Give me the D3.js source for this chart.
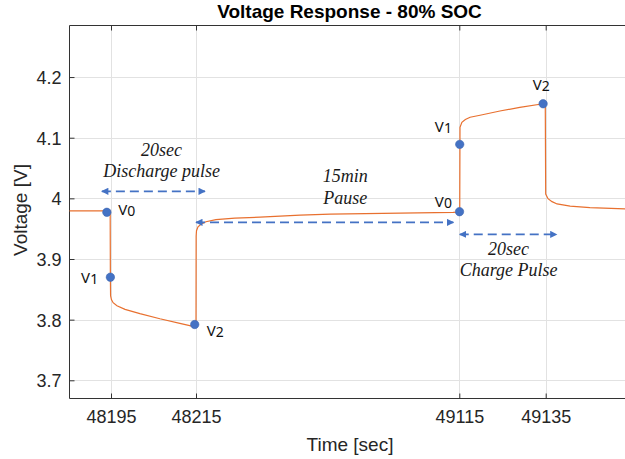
<!DOCTYPE html>
<html>
<head>
<meta charset="utf-8">
<script src="https://cdn.jsdelivr.net/npm/d3@7"></script>
<style>
  html, body { margin: 0; padding: 0; background: #fff; }
  svg { display: block; }
</style>
</head>
<body>
<svg id="chart" width="625" height="459"></svg>
<script>
// Measured cell voltage around a discharge pulse, a 15 min rest and a charge pulse
const timeSec = [
  48185, 48194.7, 48194.8, 48194.85, 48194.9, 48195.1, 48195.5, 48196.4, 48198.3,
  48201.8, 48206.5, 48211.2, 48214.8, 48215.0, 48215.5, 48216.7, 48221.8, 48232,
  48249, 48283, 48348, 48434, 48571, 48674, 48913, 49094, 49115,
  49115.1, 49115.16, 49115.6, 49116.4, 49117.5, 49119.8, 49124.4, 49129, 49134.4, 49134.9,
  49135.0, 49135.55, 49136.5, 49137.7, 49140.8, 49145.5, 49155
];
const voltage = [
  3.9795, 3.9795, 3.979, 3.870, 3.8394, 3.833, 3.828, 3.823, 3.817,
  3.810, 3.8015, 3.794, 3.788, 3.788, 3.938, 3.9467, 3.953, 3.9574,
  3.9615, 3.9649, 3.9673, 3.969, 3.9723, 3.974, 3.9756, 3.977, 3.9775,
  3.9775, 4.117, 4.1254, 4.130, 4.1337, 4.137, 4.144, 4.150, 4.156, 4.1565,
  4.007, 3.9995, 3.9946, 3.9908, 3.9871, 3.9847, 3.9825
];

// Sampled points V0, V1, V2 of each pulse
const pointTime = [48194, 48194.85, 48214.7, 49115.05, 49115.1, 49134.4];
const pointVolt = [3.977, 3.870, 3.792, 3.978, 4.089, 4.156];
const pointName = ["0", "1", "2", "0", "1", "2"];
const pointLabelTime = [48196.7, 48187.8, 48251.6, 49031.5, 49031.5, 49132.0];
const pointLabelVolt = [3.9726, 3.8604, 3.7736, 3.9851, 4.1089, 4.178];

// Axis ticks (the time axis is broken between the two pulses)
const xTicks = [48195, 48215, 49115, 49135];
const yTicks = [3.7, 3.8, 3.9, 4.0, 4.1, 4.2];
const xBreaks = [48185, 48195, 48215, 49115, 49135, 49155];

// Interval arrows and their captions
const arrowFrom = [48192.8, 48215, 49115.1];
const arrowTo = [48245.8, 49094.5, 49137.6];
const arrowVolt = [4.0116, 3.9604, 3.9406];
const captionTime = [48206.9, 48725, 49126.4];
const captionLine1 = ["20sec", "15min", "20sec"];
const captionLine2 = ["Discharge pulse", "Pause", "Charge Pulse"];
const captionVolt1 = [4.0705, 4.0264, 3.9066];
const captionVolt2 = [4.0347, 3.9908, 3.8724];

const plotLeft = 69.5, plotRight = 630, plotTop = 25.5, plotBottom = 398.5;
const svg = d3.select("#chart");

const x = d3.scaleLinear()
  .domain(xBreaks)
  .range([plotLeft, 111, 196, 459.3, 545.7, plotRight]);
const y = d3.scaleLinear().domain([3.67, 4.285]).range([plotBottom, plotTop]);

const sans = "'Liberation Sans', Arial, Helvetica, sans-serif";
const axisColor = "#333333";

// grid
svg.append("g").selectAll("line").data(xTicks).join("line")
  .attr("x1", d => Math.round(x(d)) + 0.5).attr("x2", d => Math.round(x(d)) + 0.5)
  .attr("y1", plotTop).attr("y2", plotBottom)
  .attr("stroke", "#e2e2e2").attr("stroke-width", 1);
svg.append("g").selectAll("line").data(yTicks).join("line")
  .attr("y1", d => Math.round(y(d)) + 0.5).attr("y2", d => Math.round(y(d)) + 0.5)
  .attr("x1", plotLeft).attr("x2", plotRight)
  .attr("stroke", "#e2e2e2").attr("stroke-width", 1);

// axes (ticks pointing inward)
const xAxis = d3.axisBottom(x).tickValues(xTicks).tickSize(-5).tickPadding(12)
  .tickFormat(d3.format("d"));
const gx = svg.append("g").attr("transform", `translate(0,${plotBottom})`).call(xAxis);
const yAxis = d3.axisLeft(y).tickValues(yTicks).tickSize(-5).tickPadding(8)
  .tickFormat(d => d3.format("~g")(d));
const gy = svg.append("g").attr("transform", `translate(${plotLeft},0)`).call(yAxis);
const xTop = d3.axisTop(x).tickValues(xTicks).tickSize(-5).tickFormat("");
const gt = svg.append("g").attr("transform", `translate(0,${plotTop})`).call(xTop);

[gx, gy, gt].forEach(g => {
  g.select(".domain").attr("stroke", axisColor).attr("stroke-width", 1);
  g.selectAll(".tick line").attr("stroke", axisColor);
  g.selectAll(".tick text").attr("fill", "#262626")
    .style("font-family", sans).style("font-size", "18px");
});
gx.selectAll(".tick text").attr("dy", "0.71em");
gy.selectAll(".tick text").attr("dy", "0.36em");
gx.select(".domain").attr("d", `M${plotLeft},0H${plotRight}`);
gt.select(".domain").attr("d", `M${plotLeft},0H${plotRight}`);
gy.select(".domain").attr("d", `M0,${plotTop}V${plotBottom}`);

// voltage trace
const trace = timeSec.map((t, i) => [t, voltage[i]]);
svg.append("path")
  .datum(trace)
  .attr("fill", "none")
  .attr("stroke", "#E8702F")
  .attr("stroke-width", 1.2)
  .attr("d", d3.line().x(d => x(d[0])).y(d => y(d[1])));

// arrowheads
const defs = svg.append("defs");
["start", "end"].forEach(kind => {
  defs.append("marker")
    .attr("id", "arrow-" + kind)
    .attr("viewBox", "0 0 10 10")
    .attr("refX", kind === "end" ? 9 : 1).attr("refY", 5)
    .attr("markerWidth", 4.2).attr("markerHeight", 4)
    .attr("markerUnits", "strokeWidth")
    .attr("orient", "auto")
    .append("path")
    .attr("d", kind === "end" ? "M0,0L10,5L0,10z" : "M10,0L0,5L10,10z")
    .attr("fill", "#4472C4");
});

const arrows = arrowFrom.map((f, i) => ({ f, t: arrowTo[i], v: arrowVolt[i] }));
svg.append("g").selectAll("line").data(arrows).join("line")
  .attr("x1", d => x(d.f)).attr("x2", d => x(d.t))
  .attr("y1", d => y(d.v)).attr("y2", d => y(d.v))
  .attr("stroke", "#4472C4").attr("stroke-width", 1.8)
  .attr("stroke-dasharray", "9,5")
  .attr("marker-start", "url(#arrow-start)")
  .attr("marker-end", "url(#arrow-end)");

// captions
const serif = "'Liberation Serif', 'Times New Roman', Times, serif";
const captions = captionTime.map((t, i) => ({
  t, a: captionLine1[i], b: captionLine2[i], va: captionVolt1[i], vb: captionVolt2[i]
}));
const cg = svg.append("g")
  .style("font-family", serif).style("font-style", "italic").style("font-size", "18px")
  .attr("fill", "#1a1a1a").attr("text-anchor", "middle");
cg.selectAll("text.l1").data(captions).join("text").attr("class", "l1")
  .attr("x", d => x(d.t)).attr("y", d => y(d.va)).text(d => d.a);
cg.selectAll("text.l2").data(captions).join("text").attr("class", "l2")
  .attr("x", d => x(d.t)).attr("y", d => y(d.vb)).text(d => d.b);

// V0/V1/V2 markers
const pts = pointTime.map((t, i) => ({
  t, v: pointVolt[i], n: pointName[i], lt: pointLabelTime[i], lv: pointLabelVolt[i]
}));
svg.append("g").selectAll("circle").data(pts).join("circle")
  .attr("cx", d => x(d.t)).attr("cy", d => y(d.v)).attr("r", 4.2)
  .attr("fill", "#4472C4").attr("stroke", "#3a64b0").attr("stroke-width", 0.6);

const lbl = svg.append("g").selectAll("text").data(pts).join("text")
  .attr("x", d => x(d.lt)).attr("y", d => y(d.lv))
  .style("font-family", "'Noto Sans', 'Open Sans', sans-serif")
  .style("font-size", "15px").attr("fill", "#111");
lbl.append("tspan").text("V");
lbl.append("tspan").style("font-size", "14px").attr("dy", 1).text(d => d.n);

// title and axis labels
svg.append("text")
  .attr("x", 349.5).attr("y", 18).attr("text-anchor", "middle")
  .style("font-family", sans).style("font-weight", "bold").style("font-size", "19px")
  .attr("fill", "#000").text("Voltage Response - 80% SOC");
svg.append("text")
  .attr("x", 350).attr("y", 451).attr("text-anchor", "middle")
  .style("font-family", sans).style("font-size", "19px")
  .attr("fill", "#262626").text("Time [sec]");
svg.append("text")
  .attr("transform", "translate(27,210) rotate(-90)").attr("text-anchor", "middle")
  .style("font-family", sans).style("font-size", "19px")
  .attr("fill", "#262626").text("Voltage [V]");
</script>
</body>
</html>
